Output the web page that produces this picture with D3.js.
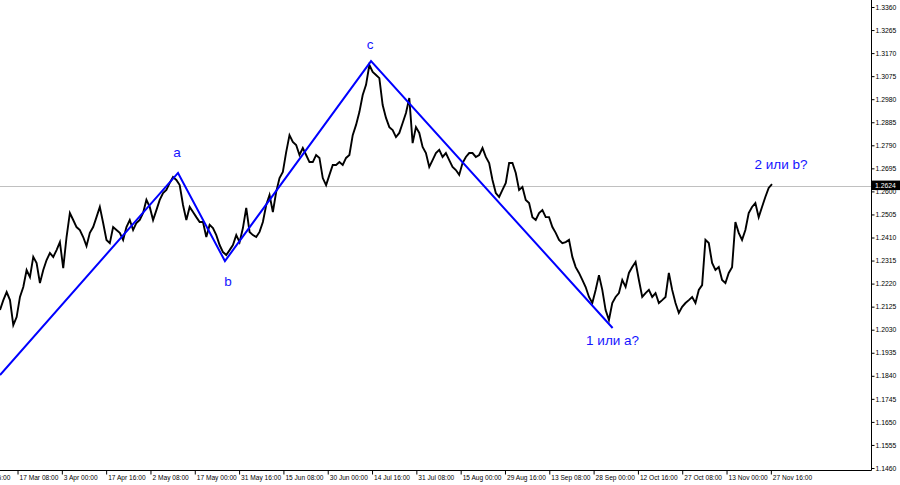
<!DOCTYPE html>
<html><head><meta charset="utf-8">
<script src="https://cdn.jsdelivr.net/npm/d3@7"></script>
<style>html,body{margin:0;padding:0;background:#fff;}svg{display:block;}</style>
</head><body>
<svg id="chart" width="900" height="485"></svg>
<script>
// ---- data ----
const closes = [
1.2111,1.2152,1.2185,1.2152,1.2049,1.2082,1.2165,1.2206,1.2276,1.2247,
1.2330,1.2305,1.2222,1.2276,1.2317,1.2346,1.2330,1.2358,1.2391,1.2284,
1.2412,1.2511,1.2482,1.2453,1.2441,1.2412,1.2375,1.2429,1.2453,1.2494,
1.2536,1.2470,1.2400,1.2387,1.2453,1.2441,1.2429,1.2400,1.2453,1.2482,
1.2441,1.2470,1.2482,1.2511,1.2565,1.2536,1.2482,1.2523,1.2565,1.2593,
1.2606,1.2635,1.2659,1.2647,1.2626,1.2544,1.2482,1.2536,1.2515,1.2494,
1.2474,1.2474,1.2412,1.2462,1.2449,1.2420,1.2379,1.2350,1.2338,1.2358,
1.2379,1.2420,1.2391,1.2449,1.2532,1.2433,1.2420,1.2412,1.2433,1.2474,
1.2544,1.2585,1.2515,1.2598,1.2655,1.2680,1.2762,1.2832,1.2804,1.2791,
1.2750,1.2779,1.2750,1.2721,1.2721,1.2750,1.2738,1.2655,1.2626,1.2668,
1.2709,1.2709,1.2721,1.2709,1.2738,1.2750,1.2832,1.2874,1.2927,1.2997,
1.3039,1.3121,1.3092,1.3080,1.3067,1.2956,1.2903,1.2865,1.2853,1.2824,
1.2841,1.2882,1.2923,1.2985,1.2799,1.2865,1.2841,1.2783,1.2758,1.2701,
1.2729,1.2758,1.2771,1.2742,1.2758,1.2729,1.2701,1.2688,1.2668,1.2717,
1.2742,1.2758,1.2758,1.2742,1.2750,1.2779,1.2742,1.2717,1.2647,1.2593,
1.2577,1.2606,1.2635,1.2717,1.2717,1.2676,1.2606,1.2618,1.2565,1.2552,
1.2494,1.2482,1.2511,1.2523,1.2494,1.2494,1.2453,1.2429,1.2400,1.2387,
1.2391,1.2400,1.2330,1.2288,1.2264,1.2235,1.2206,1.2165,1.2140,1.2194,
1.2255,1.2194,1.2111,1.2070,1.2140,1.2165,1.2181,1.2235,1.2206,1.2264,
1.2288,1.2309,1.2235,1.2165,1.2181,1.2194,1.2165,1.2181,1.2140,1.2152,
1.2165,1.2264,1.2194,1.2140,1.2099,1.2124,1.2140,1.2152,1.2165,1.2140,
1.2194,1.2214,1.2400,1.2387,1.2305,1.2276,1.2288,1.2235,1.2222,1.2264,
1.2288,1.2474,1.2429,1.2400,1.2441,1.2511,1.2536,1.2552,1.2494,1.2536,
1.2577,1.2614,1.2630
];
const currentPrice = 1.2624;
const priceTicks = [1.3360,1.3265,1.3170,1.3075,1.2980,1.2885,1.2790,1.2695,1.2600,1.2505,
  1.2410,1.2315,1.2220,1.2125,1.2030,1.1935,1.1840,1.1745,1.1650,1.1555,1.1460];
const dateLabels = ["2 Mar 16:00","17 Mar 08:00","3 Apr 00:00","17 Apr 16:00","2 May 08:00",
  "17 May 00:00","31 May 16:00","15 Jun 08:00","30 Jun 00:00","14 Jul 16:00","31 Jul 08:00",
  "15 Aug 00:00","29 Aug 16:00","13 Sep 08:00","28 Sep 00:00","12 Oct 16:00","27 Oct 08:00",
  "13 Nov 00:00","27 Nov 16:00"];
// wave markup: position in sample index units, price
const waveIndex = [0, 53.5, 67.6, 111.5, 184.1];
const wavePrice = [1.1843, 1.2676, 1.2313, 1.3137, 1.2037];
const waveLabels = ["a","b","c","1 или а?"];
const lastLabel = "2 или b?";

// ---- layout ----
const plotRight = 871, plotBottom = 470;
const svg = d3.select("#chart");
const x = d3.scaleLinear().domain([0, closes.length - 1]).range([0, 772]);
const y = d3.scaleLinear().domain([1.1460, 1.3360]).range([468, 7]);
const tickStart = -8.05, tickStep = 13.317;
const axisFont = "'Liberation Sans', Arial, sans-serif";

// current price line
svg.append("line").attr("x1",0).attr("x2",plotRight)
  .attr("y1",Math.round(y(currentPrice))+0.5).attr("y2",Math.round(y(currentPrice))+0.5)
  .attr("stroke","#c0c0c0").attr("stroke-width",1);

// price series
const line = d3.line().x((d,i)=>x(i)).y(d=>y(d));
svg.append("path").datum(closes).attr("d",line)
  .attr("fill","none").attr("stroke","#000").attr("stroke-width",1.9)
  .attr("stroke-linejoin","miter");

// wave lines
const wavePts = waveIndex.map((v,i)=>[x(v), y(wavePrice[i])]);
svg.append("path").attr("d", d3.line()(wavePts))
  .attr("fill","none").attr("stroke","#0000ff").attr("stroke-width",2);

const lblStyle = sel => sel.attr("fill","#1414ff").attr("font-family","Arial, 'Liberation Sans', sans-serif")
  .attr("font-size",13.5).attr("text-anchor","middle").attr("dominant-baseline","central");
const offs = [[-1,-20],[3,20],[-1,-17],[0,12]];
waveLabels.forEach((t,k)=>{
  const p = wavePts[k+1];
  svg.append("text").text(t).attr("x",p[0]+offs[k][0]).attr("y",p[1]+offs[k][1]).call(lblStyle);
});
svg.append("text").text(lastLabel)
  .attr("x", x(closes.length-1)+9).attr("y", y(closes[closes.length-1])-20).call(lblStyle);

// axes
svg.append("line").attr("x1",plotRight+0.5).attr("x2",plotRight+0.5).attr("y1",0).attr("y2",plotBottom+0.5)
  .attr("stroke","#000").attr("stroke-width",1);
svg.append("line").attr("x1",0).attr("x2",plotRight+0.5).attr("y1",plotBottom+0.5).attr("y2",plotBottom+0.5)
  .attr("stroke","#000").attr("stroke-width",1);

const yAxis = d3.axisRight(y).tickValues(priceTicks).tickSize(3).tickPadding(1)
  .tickFormat(d3.format(".4f"));
const gy = svg.append("g").attr("transform",`translate(${plotRight+0.5},0)`).call(yAxis);
gy.select(".domain").remove();
gy.selectAll("text").attr("font-family",axisFont).attr("font-size",6.8).attr("fill","#000");

const tickPos = dateLabels.map((d,j)=>tickStart + tickStep*j);
const xAxis = d3.axisBottom(x).tickValues(tickPos).tickSize(4).tickPadding(1)
  .tickFormat((d,j)=>dateLabels[j]);
const gx = svg.append("g").attr("transform",`translate(0,${plotBottom+0.5})`).call(xAxis);
gx.select(".domain").remove();
gx.selectAll("text").attr("font-family",axisFont).attr("font-size",6.6)
  .attr("fill","#000").attr("text-anchor","start").attr("dx",1.5);

// current price box
const cy = y(currentPrice);
svg.append("rect").attr("x",plotRight+1).attr("y",cy-5).attr("width",28).attr("height",9.5).attr("fill","#000");
svg.append("text").text(currentPrice.toFixed(4)).attr("x",plotRight+4).attr("y",cy)
  .attr("dominant-baseline","central").attr("fill","#fff")
  .attr("font-family",axisFont).attr("font-size",6.8);
</script>
</body></html>
